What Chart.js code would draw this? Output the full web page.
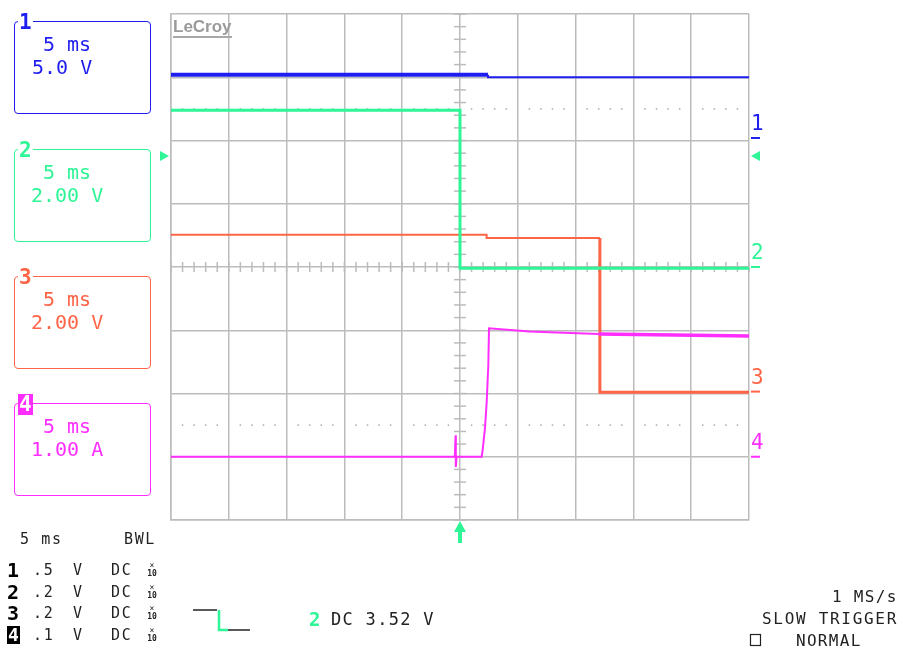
<!DOCTYPE html>
<html>
<head>
<meta charset="utf-8">
<script src="https://cdn.jsdelivr.net/npm/chart.js@4.4.1/dist/chart.umd.min.js"></script>
<style>
  body { margin: 0; background: #fff; }
  #wrap { position: relative; width: 903px; height: 650px; overflow: hidden; font-family: "DejaVu Sans Mono", monospace; }
  #scope { position: absolute; left: 0; top: 0; }
  .t { position: absolute; white-space: pre; line-height: 1; transform: translateY(-50%); }
  .box { position: absolute; border: 1.5px solid; border-radius: 4px; box-sizing: border-box; }
  .tab { position: absolute; font-weight: bold; font-size: 21px; line-height: 1; background: #fff; padding: 0 1px; }
  .info { font-size: 15px; letter-spacing: 1.6px; color: #222; }
  .big { font-size: 20px; }
  .num { font-weight: bold; font-size: 20px; color: #000; }
  .mark { font-size: 21px; }
  .x10 { position: absolute; font-size: 8px; line-height: 8px; text-align: center; width: 10px; color: #222; }
</style>
</head>
<body>
<div id="wrap">
<canvas id="scope" width="903" height="650"></canvas>
</div>
<script>
// time in ms (5 ms/div, trigger at 0), amplitude in screen divisions
const ch1Time = [-25, 2.42, 2.42, 25];
const ch1Div  = [3.04, 3.04, 3.0, 3.0];

const ch2Time = [-25, 0, 0, 25];
const ch2Div  = [2.48, 2.48, -0.02, -0.02];

const ch3Time = [-25, 2.3, 2.3, 12.1, 12.1, 25];
const ch3Div  = [0.51, 0.51, 0.46, 0.46, -1.98, -1.98];

const ch4Time = [-25, -0.45, -0.38, -0.36, -0.3, 1.88, 1.96, 2.16, 2.31, 2.45, 2.51, 6, 12, 25];
const ch4Div  = [-3.0, -3.0, -2.66, -3.16, -3.0, -3.0, -2.89, -2.55, -2.13, -1.55, -0.97, -1.02, -1.06, -1.09];

const channelColors = ['#1e1ef0', '#2ef596', '#ff6446', '#ff2eff'];
const channelGround = [2.04, 0, -1.97, -3.0];
const channelNames = ['1', '2', '3', '4'];
const boxLines = [['5 ms', '5.0 V'], ['5 ms', '2.00 V'], ['5 ms', '2.00 V'], ['5 ms', '1.00 A']];
const probeRows = [['1', '.5', 'V', 'DC'], ['2', '.2', 'V', 'DC'], ['3', '.2', 'V', 'DC'], ['4', '.1', 'V', 'DC']];
const timebase = '5 ms';
const triggerText = 'DC 3.52 V';
const sampleRate = '1 MS/s';
const triggerMode = ['SLOW TRIGGER', 'NORMAL'];

function pts(t, v) { return t.map((x, i) => ({ x: x, y: v[i] })); }

const GRID = '#bcbcbc';

const scopeDeco = {
  id: 'scopeDeco',
  beforeDatasetsDraw(chart) {
    const c = chart.ctx, xs = chart.scales.x, ys = chart.scales.y;
    const cx = xs.getPixelForValue(0), cy = ys.getPixelForValue(0);
    c.save();
    c.strokeStyle = GRID; c.lineWidth = 1.5;
    // minor ticks on the centre cross
    for (let d = -4; d <= 4.001; d += 0.2) {
      const y = ys.getPixelForValue(d);
      c.beginPath(); c.moveTo(cx - 6, y); c.lineTo(cx + 6, y); c.stroke();
    }
    for (let t = -25; t <= 25.001; t += 1) {
      const x = xs.getPixelForValue(t);
      c.beginPath(); c.moveTo(x, cy - 5); c.lineTo(x, cy + 5); c.stroke();
    }
    // dotted half-division lines
    c.fillStyle = '#aaa';
    [2.5, -2.5].forEach(d => {
      const y = ys.getPixelForValue(d);
      for (let t = -25; t <= 25.001; t += 1) {
        if (Math.abs(t % 5) < 0.01) continue;
        c.fillRect(xs.getPixelForValue(t) - 0.75, y - 0.75, 1.5, 1.5);
      }
    });
    c.restore();
  },
  afterDatasetsDraw(chart) {
    const c = chart.ctx, xs = chart.scales.x, ys = chart.scales.y;
    const right = chart.chartArea.right, left = chart.chartArea.left;
    const bottom = chart.chartArea.bottom;
    c.save();
    // ground markers on the right edge
    channelGround.forEach((g, i) => {
      const y = ys.getPixelForValue(g);
      c.strokeStyle = channelColors[i]; c.lineWidth = 2;
      c.beginPath(); c.moveTo(right + 2, y); c.lineTo(right + 11, y); c.stroke();
    });
    // trigger level arrows
    const ty = 156;
    c.fillStyle = channelColors[1];
    c.beginPath(); c.moveTo(left - 11, ty - 5); c.lineTo(left - 2, ty); c.lineTo(left - 11, ty + 5); c.fill();
    c.beginPath(); c.moveTo(right + 11, ty - 5); c.lineTo(right + 2, ty); c.lineTo(right + 11, ty + 5); c.fill();
    // trigger position arrow
    const tx = xs.getPixelForValue(0);
    c.beginPath(); c.moveTo(tx, bottom + 1); c.lineTo(tx - 6, bottom + 12); c.lineTo(tx + 6, bottom + 12); c.fill();
    c.fillRect(tx - 2, bottom + 10, 4, 13);
    // trigger slope icon
    c.lineWidth = 1.5;
    c.strokeStyle = '#222';
    c.beginPath(); c.moveTo(193, 610); c.lineTo(217, 610); c.stroke();
    c.beginPath(); c.moveTo(228, 630); c.lineTo(250, 630); c.stroke();
    c.strokeStyle = channelColors[1]; c.lineWidth = 2.5;
    c.beginPath(); c.moveTo(219, 610); c.lineTo(219, 630); c.lineTo(228, 630); c.stroke();
    // trigger mode square
    c.strokeStyle = '#222'; c.lineWidth = 1.2;
    c.strokeRect(750.5, 634.5, 10, 11);
    c.restore();
  }
};

new Chart(document.getElementById('scope'), {
  type: 'line',
  data: {
    datasets: [
      { data: pts(ch2Time, ch2Div), borderColor: channelColors[1], borderWidth: 3 },
      { data: pts(ch1Time, ch1Div), borderColor: channelColors[0],
        segment: { borderWidth: s => s.p0.parsed.x < 2 ? 4 : 2 } },
      { data: pts(ch4Time, ch4Div), borderColor: channelColors[3],
        segment: { borderWidth: s => s.p0.parsed.x >= 12 ? 3.5 : 2 } },
      { data: pts(ch3Time, ch3Div), borderColor: channelColors[2],
        segment: { borderWidth: s => s.p0.parsed.x >= 12.1 ? 3 : 2 } }
    ]
  },
  options: {
    responsive: false,
    animation: false,
    events: [],
    layout: { padding: { left: 171, right: 154, top: 14, bottom: 130 } },
    elements: { point: { radius: 0 }, line: { tension: 0, borderWidth: 2 } },
    plugins: { legend: { display: false }, tooltip: { enabled: false } },
    scales: {
      x: { type: 'linear', min: -25, max: 25,
           ticks: { display: false, stepSize: 5 },
           grid: { color: GRID, lineWidth: 1.5, drawTicks: false },
           border: { color: GRID, width: 1.5 },
           afterFit: s => { s.height = 0; } },
      y: { type: 'linear', min: -4, max: 4,
           ticks: { display: false, stepSize: 1 },
           grid: { color: GRID, lineWidth: 1.5, drawTicks: false },
           border: { color: GRID, width: 1.5 },
           afterFit: s => { s.width = 0; } }
    }
  },
  plugins: [scopeDeco]
});

// text panels
const wrap = document.getElementById('wrap');
function addText(txt, x, y, cls, color, extra) {
  const d = document.createElement('div');
  d.className = 't ' + (cls || '');
  d.textContent = txt;
  d.style.left = x + 'px'; d.style.top = y + 'px';
  if (color) d.style.color = color;
  if (extra) Object.assign(d.style, extra);
  wrap.appendChild(d);
  return d;
}

// LeCroy logo
addText('LeCroy', 173, 28, '', '#9a9a9a', { fontFamily: 'Liberation Sans, sans-serif', fontWeight: 'bold', fontSize: '17px', letterSpacing: '0px', borderBottom: '2px solid #a8a8a8', paddingBottom: '1px', lineHeight: '17px' });

// channel boxes on the left
const boxTops = [21, 149, 276, 403];
boxTops.forEach((top, i) => {
  const col = channelColors[i];
  const b = document.createElement('div');
  b.className = 'box';
  Object.assign(b.style, { left: '14px', top: top + 'px', width: '137px', height: '93px', borderColor: col });
  wrap.appendChild(b);
  const tab = document.createElement('div');
  tab.className = 'tab';
  tab.textContent = channelNames[i];
  Object.assign(tab.style, { left: '18px', top: (top - 9) + 'px', color: col });
  if (i === 3) Object.assign(tab.style, { background: col, color: '#fff', padding: '0 1px' });
  wrap.appendChild(tab);
  addText(boxLines[i][0], 43, top + 23, 'big', col);
  addText(boxLines[i][1], boxLines[i][1].length > 5 ? 31 : 32, top + 46, 'big', col);
});

// channel numbers at the right edge
channelGround.forEach((g, i) => {
  const yPix = [137.7, 266.7, 391.7, 456.7][i];
  addText(channelNames[i], 751, yPix - 15, 'mark', channelColors[i]);
});

// bottom-left acquisition panel
addText(timebase, 20, 539, 'info');
addText('BWL', 124, 539, 'info');
probeRows.forEach((r, i) => {
  const y = 570 + i * 21.7;
  addText(r[0], 7, y, 'num', '', i === 3 ? { background: '#000', color: '#fff', fontSize: '18px', padding: '0 1px' } : null);
  addText(r[1], 33, y, 'info');
  addText(r[2], 73, y, 'info');
  addText(r[3], 111, y, 'info');
  const x = document.createElement('div');
  x.className = 'x10';
  x.innerHTML = '×<br><b>10</b>';
  Object.assign(x.style, { left: '147px', top: (y - 8) + 'px' });
  wrap.appendChild(x);
});

// trigger readout
addText('2', 309, 619, 'num', channelColors[1], { fontSize: '19px' });
addText(triggerText, 331, 619, 'info', '', { fontSize: '17px', letterSpacing: '1.3px' });

// right-bottom status
addText(sampleRate, 832, 597, 'info', '', { fontSize: '16px', letterSpacing: '1.3px' });
addText(triggerMode[0], 762, 619, 'info', '', { fontSize: '16px', letterSpacing: '1.7px' });
addText(triggerMode[1], 796, 641, 'info', '', { fontSize: '16px', letterSpacing: '1.3px' });
</script>
</body>
</html>
